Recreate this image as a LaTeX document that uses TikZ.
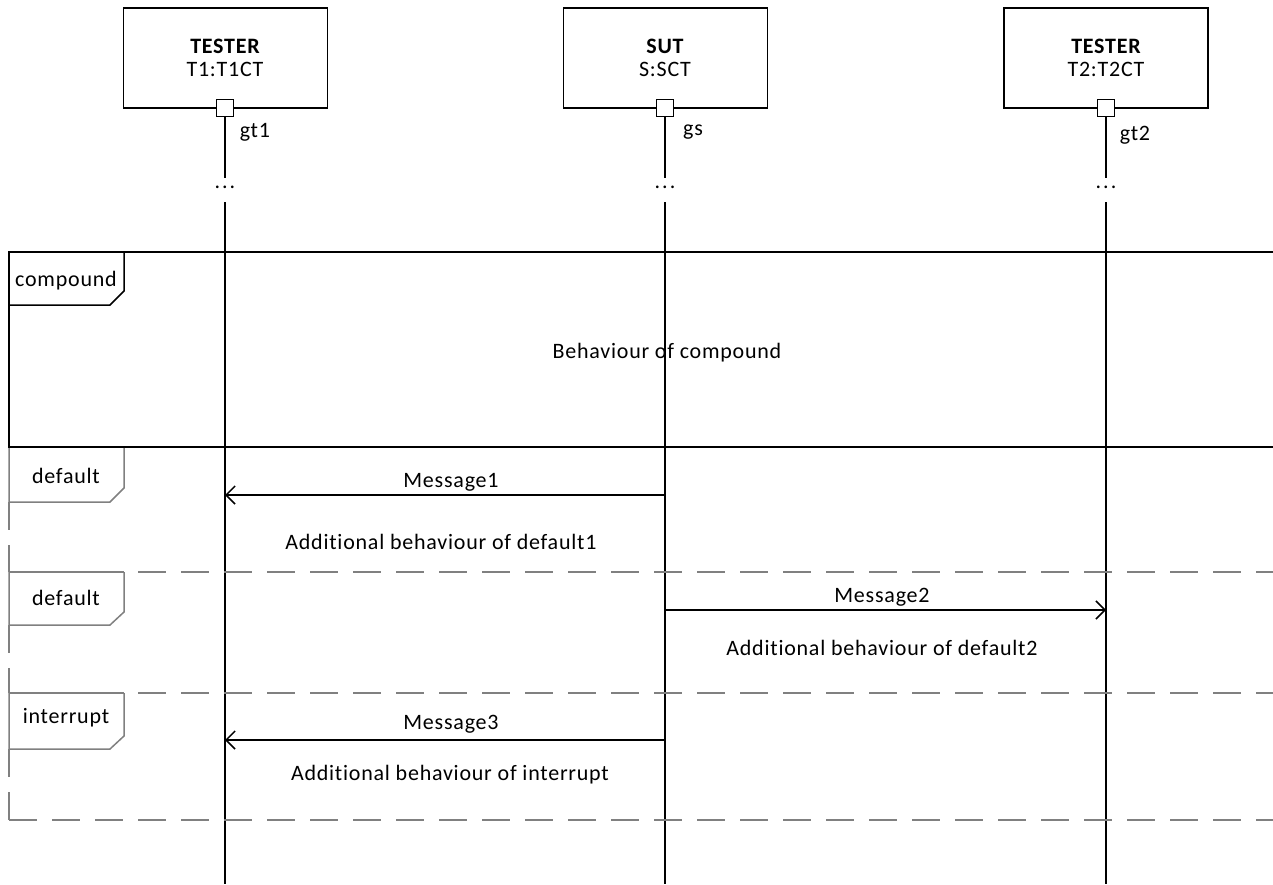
\documentclass[tikz,border=0pt]{standalone}
\usepackage{fontspec}
\setmainfont{Carlito}[Ligatures=NoCommon, LetterSpace=3.5]
\usetikzlibrary{arrows.meta}
\definecolor{framegray}{RGB}{128,128,128}
\begin{document}
\begin{tikzpicture}[x=1pt,y=-1pt,
  txt/.style={font=\fontsize{22}{26}\selectfont, inner sep=0pt, anchor=base},
  btxt/.style={font=\fontsize{22}{26}\selectfont\bfseries, inner sep=0pt, anchor=base},
  headbox/.style={draw, line width=1.5pt, minimum width=204pt, minimum height=100pt, inner sep=0pt},
  gate/.style={draw, fill=white, line width=1.5pt, minimum size=17pt, inner sep=0pt},
  life/.style={line width=1.5pt},
  msg/.style={line width=1.5pt, -{Straight Barb[length=9pt,width=18pt,line width=1.5pt]}},
  frameblack/.style={line width=1.5pt, draw=black},
  framesolid/.style={line width=1.5pt, draw=framegray},
  framedash/.style={line width=1.5pt, draw=framegray, dash pattern=on 28pt off 15pt},
]
\useasboundingbox (0,0) rectangle (1273,884);

% heads
\node[headbox] (t1box) at (225.5,58) {};
\node[headbox] (sbox) at (665.5,58) {};
\node[headbox] (t2box) at (1106,58) {};
\node[btxt] (t1name) at (225,53) {TESTER};
\node[txt] (t1type) at (225,76) {T1:T1CT};
\node[btxt] (sname) at (665,53) {SUT};
\node[txt] (stype) at (665,76) {S:SCT};
\node[btxt] (t2name) at (1106,53) {TESTER};
\node[txt] (t2type) at (1106,76) {T2:T2CT};

% gates
\node[gate] (g1) at (225,108) {};
\node[gate] (gs) at (665,108) {};
\node[gate] (g2) at (1106,108) {};
\node[txt] (g1l) at (255,137) {gt1};
\node[txt] (gsl) at (693,135) {gs};
\node[txt] (g2l) at (1135,140) {gt2};

% lifelines
\coordinate (l1top) at (225,178);
\coordinate (l1bot) at (225,202);
\coordinate (l1end) at (225,884);
\coordinate (l2top) at (665,178);
\coordinate (l2bot) at (665,202);
\coordinate (l2end) at (665,884);
\coordinate (l3top) at (1106,178);
\coordinate (l3bot) at (1106,202);
\coordinate (l3end) at (1106,884);
\node[txt] (d1) at (225,188) {.\hspace{2pt}.\hspace{2pt}.};
\node[txt] (d2) at (665,188) {.\hspace{2pt}.\hspace{2pt}.};
\node[txt] (d3) at (1106,188) {.\hspace{2pt}.\hspace{2pt}.};
\draw[life] (g1.south) -- (l1top);
\draw[life] (l1bot) -- (l1end);
\draw[life] (gs.south) -- (l2top);
\draw[life] (l2bot) -- (l2end);
\draw[life] (g2.south) -- (l3top);
\draw[life] (l3bot) -- (l3end);

% default 1 frame (gray)
\draw[framesolid] (9,447) -- (9,502) -- (110,502) -- (124,488) -- (124,447);
\draw[framedash] (9,502) -- (9,572);
% default 2 frame
\draw[framesolid] (9,572) -- (124,572);
\draw[framedash, dash phase=29pt] (124,572) -- (1273,572);
\draw[framesolid] (9,572) -- (9,625) -- (110,625) -- (124,612) -- (124,572);
\draw[framedash] (9,625) -- (9,693);
% interrupt frame
\draw[framesolid] (9,693) -- (124,693);
\draw[framedash, dash phase=29pt] (124,693) -- (1273,693);
\draw[framesolid] (9,693) -- (9,749) -- (110,749) -- (124,736) -- (124,693);
\draw[framedash] (9,749) -- (9,820);
\draw[framedash] (9,820) -- (1273,820);

% compound frame
\draw[frameblack] (1273,252) -- (9,252) -- (9,447) -- (1273,447);
\draw[frameblack] (9,305) -- (110,305) -- (124,291) -- (124,252);

% labels of frames
\node[txt] (cpl) at (66,286) {compound};
\node[txt] (df1) at (66,483) {default};
\node[txt] (df2) at (66,605) {default};
\node[txt] (intl) at (66,723) {interrupt};
\node[txt] (cbeh) at (667,358) {Behaviour of compound};

% messages
\coordinate (m1a) at (665,495);
\coordinate (m1b) at (225,495);
\coordinate (m2a) at (665,610);
\coordinate (m2b) at (1106,610);
\coordinate (m3a) at (665,740);
\coordinate (m3b) at (225,740);
\draw[msg] (m1a) -- (m1b);
\draw[msg] (m2a) -- (m2b);
\draw[msg] (m3a) -- (m3b);
\node[txt] (m1l) at (451,487) {Message1};
\node[txt] (m2l) at (882,602) {Message2};
\node[txt] (m3l) at (451,729) {Message3};
\node[txt] (a1) at (441,549) {Additional behaviour of default1};
\node[txt] (a2) at (882,655) {Additional behaviour of default2};
\node[txt] (a3) at (450,780) {Additional behaviour of interrupt};
\end{tikzpicture}
\end{document}
